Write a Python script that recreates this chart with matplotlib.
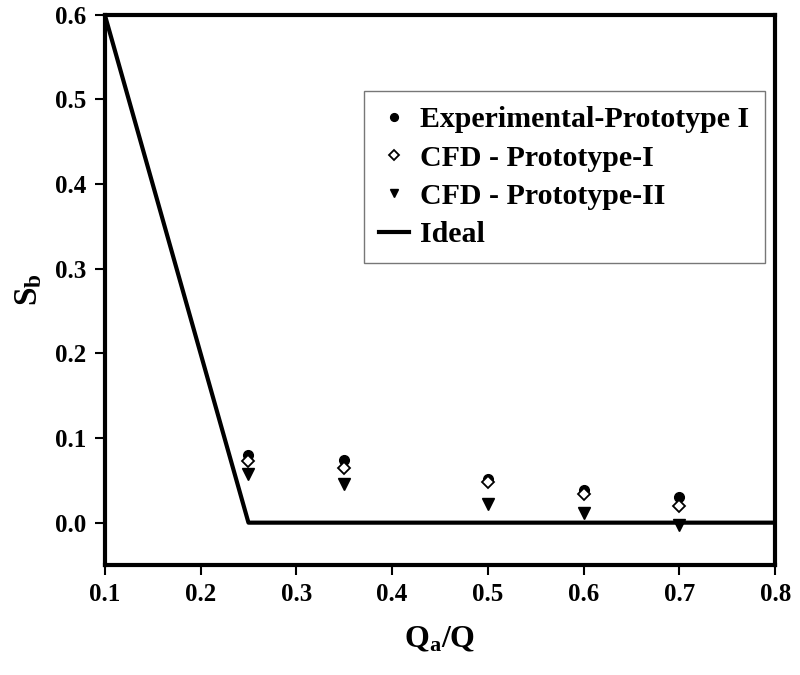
import numpy as np
import matplotlib
matplotlib.use('Agg')
import matplotlib.pyplot as plt

plt.rcParams['font.family'] = ['Liberation Serif', 'DejaVu Serif']
plt.rcParams['font.weight'] = 'bold'
plt.rcParams['mathtext.fontset'] = 'custom'
plt.rcParams['mathtext.rm'] = 'Liberation Serif:bold'
plt.rcParams['mathtext.bf'] = 'Liberation Serif:bold'
plt.rcParams['mathtext.it'] = 'Liberation Serif:bold'

# data
x = [0.25, 0.35, 0.5, 0.6, 0.7]
exp_p1 = [0.080, 0.074, 0.051, 0.039, 0.030]
cfd_p1 = [0.073, 0.064, 0.048, 0.034, 0.020]
cfd_p2 = [0.057, 0.046, 0.022, 0.012, -0.003]
ideal_x = [0.1, 0.25, 0.8]
ideal_y = [0.6, 0.0, 0.0]

fig = plt.figure(figsize=(8, 6.75), dpi=100)
ax = fig.add_axes([0.131, 0.163, 0.838, 0.815])

ax.plot(x, exp_p1, 'o', color='black', ms=7, label='Experimental-Prototype I')
ax.plot(x, cfd_p1, 'D', mfc='white', mec='black', mew=1.3, ms=6.5, label='CFD - Prototype-I')
ax.plot(x, cfd_p2, 'v', color='black', ms=8, label='CFD - Prototype-II')
ax.plot(ideal_x, ideal_y, '-', color='black', lw=3, label='Ideal')

ax.set_xlim(0.1, 0.8)
ax.set_ylim(-0.05, 0.6)
ax.set_xticks(np.arange(0.1, 0.81, 0.1))
ax.set_yticks(np.arange(0.0, 0.61, 0.1))
ax.set_xticklabels(['%.1f' % v for v in np.arange(0.1, 0.81, 0.1)])
ax.set_yticklabels(['%.1f' % v for v in np.arange(0.0, 0.61, 0.1)])
ax.tick_params(direction='out', length=7, width=1.5, labelsize=18, pad=6)

for s in ax.spines.values():
    s.set_linewidth(3)

ax.set_xlabel('Q$_{a}$/Q', fontsize=23, fontweight='bold', labelpad=14)
ax.set_ylabel('S$_{b}$', fontsize=24, fontweight='bold', labelpad=8)

leg = ax.legend(loc='upper right', bbox_to_anchor=(0.993, 0.872), fontsize=21.5,
                frameon=True, fancybox=False, edgecolor='#555555',
                markerscale=0.8, handlelength=1.0, handletextpad=0.4,
                borderpad=0.5, labelspacing=0.38, borderaxespad=0.2)
leg.get_frame().set_linewidth(1.0)

fig.savefig('out.png', dpi=100)
